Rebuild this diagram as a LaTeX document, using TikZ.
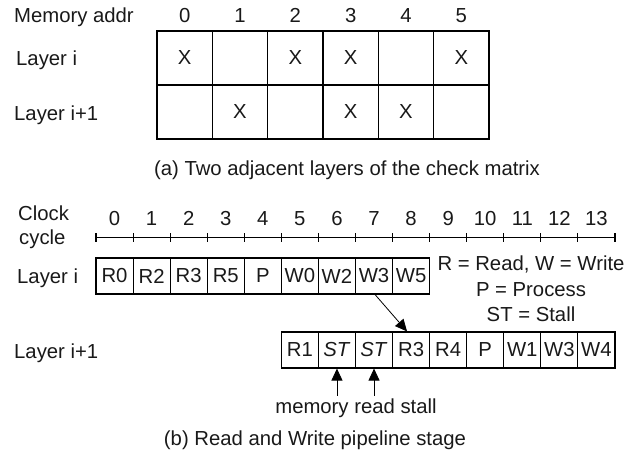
\documentclass[tikz,border=0pt]{standalone}
\usepackage{fontspec}
\setmainfont{Liberation Sans}
\usetikzlibrary{arrows.meta,calc}
\begin{document}
\begin{tikzpicture}[x=1pt,y=-1pt,
  every node/.style={font=\fontsize{20.3}{24}\selectfont, inner sep=0pt, text=black!90},
  txt/.style={anchor=base west},
  ctr/.style={anchor=base},
  cell/.style={draw, line width=1.1pt, minimum width=55.33pt, minimum height=54pt},
  stagebox/.style={draw, line width=1.1pt, minimum width=37.07pt, minimum height=36pt},
  axis/.style={line width=1.1pt},
  arr/.style={line width=0.8pt, -{Triangle[length=12pt,width=11pt]}}]
\useasboundingbox (0,0) rectangle (635,458);

% ---------- (a) memory layout of two layers ----------
\node[txt] (memaddr) at (14,22.3) {Memory addr};
\foreach \k in {0,...,5}
  \node[ctr] (addr\k) at ({184.67+55.33*\k},22.3) {\k};
\node[txt] (la) at (16,65.3) {Layer i};
\node[txt] (lb) at (14,120.3) {Layer i+1};

\foreach \k/\m in {0/X,1/,2/X,3/X,4/,5/X}
  \node[cell] (ga\k) at ({184.67+55.33*\k},58) {\m};
\foreach \k/\m in {0/,1/X,2/,3/X,4/X,5/}
  \node[cell] (gb\k) at ({184.67+55.33*\k},112) {\m};

\node[ctr] (capa) at (347,175.3) {(a) Two adjacent layers of the check matrix};

% ---------- (b) pipeline timing ----------
\node[txt] (clock) at (18,220.3) {Clock};
\node[txt] (cycle) at (19,244.5) {cycle};

\coordinate (ax0) at (96,237.7);
\coordinate (ax1) at (615,237.7);
\draw[axis] (ax0) -- (ax1);
\foreach \k in {0,...,14}
  \draw[axis] ({96+37.07*\k},233.2) -- ({96+37.07*\k},242.2);
\foreach \k in {0,...,13}
  \node[ctr] (cyc\k) at ({96+37.07*(\k+0.5)},225.3) {\k};

\node[txt] (pa) at (17,283.3) {Layer i};
\foreach \k/\s [count=\i from 0] in {0/R0,1/R2,2/R3,3/R5,4/P,5/W0,6/W2,7/W3,8/W5}
  \node[stagebox] (sa\i) at ({96+37.07*(\k+0.5)},276) {\s};

\node[ctr] (leg1) at (531,270) {R = Read, W = Write};
\node[ctr] (leg2) at (531,296.5) {P = Process};
\node[ctr] (leg3) at (531,321) {ST = Stall};

\node[txt] (pb) at (14,358) {Layer i+1};
\foreach \k/\s [count=\i from 0] in {5/R1,6/\textit{ST},7/\textit{ST},8/R3,9/R4,10/P,11/W1,12/W3,13/W4}
  \node[stagebox] (sb\i) at ({96+37.07*(\k+0.5)},350) {\s};

% W3 of layer i must be written before R3 of layer i+1
\draw[arr] ([xshift=1pt]sa7.south) -- ([xshift=-4pt]sb3.north);

% stalls while waiting for the memory
\coordinate (st1) at ($(sb1.south)+(0,27)$);
\coordinate (st2) at ($(sb2.south)+(0,27)$);
\draw[arr] (st1) -- (sb1.south);
\draw[arr] (st2) -- (sb2.south);
\node[ctr] (stall) at (356,413) {memory read stall};

\node[ctr] (capb) at (315,445) {(b) Read and Write pipeline stage};
\end{tikzpicture}
\end{document}
